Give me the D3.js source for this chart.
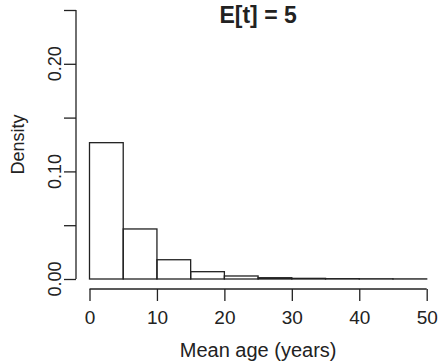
<!DOCTYPE html>
<html>
<head>
<meta charset="utf-8">
<script src="https://cdn.jsdelivr.net/npm/d3@7"></script>
<style>
  body { margin: 0; background: #fff; }
  text { font-family: "Liberation Sans", Arial, sans-serif; fill: #222; }
</style>
</head>
<body>
<svg id="chart" width="438" height="363"></svg>
<script>
// 直方图数据：每个区间宽 5 年
const binStarts = [0, 5, 10, 15, 20, 25, 30, 35, 40, 45];
const binWidth = 5;
const densities = [0.1267, 0.0465, 0.0179, 0.0068, 0.0028, 0.0012, 0.0006, 0.0003, 0.0002, 0.0001];
const xTicks = [0, 10, 20, 30, 40, 50];
const yTicks = [0, 0.05, 0.10, 0.15, 0.20, 0.25];
const yLabels = [0, 0.10, 0.20];

const svg = d3.select("#chart");
const ink = "#222";

const x = d3.scaleLinear().domain([0, 50]).range([89.5, 426.7]);
const y = d3.scaleLinear().domain([0, 0.25]).range([279, 10]);

// 直方柱
svg.append("g")
    .selectAll("rect")
    .data(binStarts.map((s, i) => ({ x0: s, x1: s + binWidth, d: densities[i] })))
    .enter()
    .append("rect")
    .attr("x", d => x(d.x0))
    .attr("y", d => y(d.d))
    .attr("width", d => x(d.x1) - x(d.x0))
    .attr("height", d => y(0) - y(d.d))
    .attr("fill", "none")
    .attr("stroke", ink)
    .attr("stroke-width", 1.3);

// x 轴
const xAxis = svg.append("g")
    .attr("transform", "translate(0,289)")
    .call(d3.axisBottom(x).tickValues(xTicks).tickSize(12).tickPadding(6).tickFormat(d3.format("d")));
xAxis.select(".domain").attr("stroke", ink).attr("stroke-width", 1.3)
    .attr("d", `M${x(0)},0H${x(50)}`);
xAxis.selectAll(".tick line").attr("stroke", ink).attr("stroke-width", 1.3);
xAxis.selectAll(".tick text")
    .style("font-size", "19px")
    .style("font-family", "'Liberation Sans', Arial, sans-serif")
    .attr("fill", ink)
    .attr("dy", "0.9em");

// y 轴
const yAxis = svg.append("g")
    .attr("transform", "translate(76,0)")
    .call(d3.axisLeft(y).tickValues(yTicks).tickSize(12).tickFormat(""));
yAxis.select(".domain").attr("stroke", ink).attr("stroke-width", 1.3)
    .attr("d", `M0,${y(0)}V${y(0.25)}`);
yAxis.selectAll(".tick line").attr("stroke", ink).attr("stroke-width", 1.3);

svg.append("g")
    .selectAll("text")
    .data(yLabels)
    .enter()
    .append("text")
    .attr("transform", d => `translate(61,${y(d)}) rotate(-90)`)
    .attr("text-anchor", "middle")
    .style("font-size", "18px")
    .text(d => d3.format(".2f")(d));

// 坐标轴标签
svg.append("text")
    .attr("x", (x(0) + x(50)) / 2)
    .attr("y", 357)
    .attr("text-anchor", "middle")
    .style("font-size", "20px")
    .text("Mean age (years)");

svg.append("text")
    .attr("transform", `translate(24,${(y(0) + y(0.25)) / 2}) rotate(-90)`)
    .attr("text-anchor", "middle")
    .style("font-size", "18px")
    .text("Density");

// 标题
svg.append("text")
    .attr("x", (x(0) + x(50)) / 2)
    .attr("y", 23)
    .attr("text-anchor", "middle")
    .style("font-size", "23px")
    .style("font-weight", "bold")
    .text("E[t] = 5");
</script>
</body>
</html>
